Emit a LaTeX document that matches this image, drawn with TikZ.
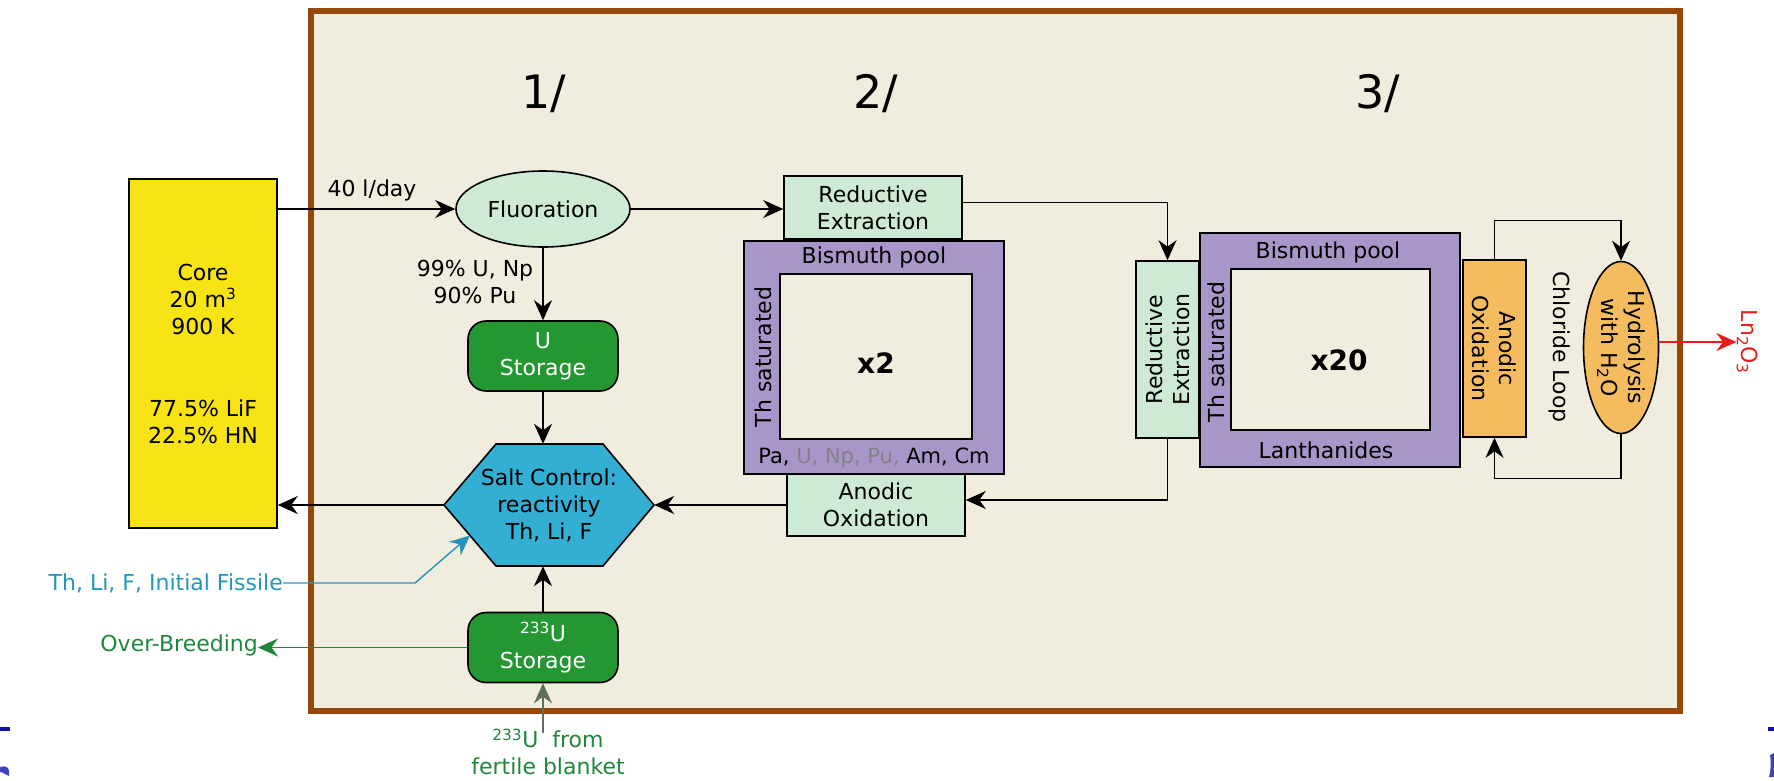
\documentclass[tikz,border=0pt]{standalone}
\usepackage{fontspec}
\setmainfont{DejaVu Sans}
\usetikzlibrary{arrows.meta,shapes.geometric,calc}
\definecolor{beige}{RGB}{240,236,222}
\definecolor{brownc}{RGB}{150,72,10}
\definecolor{yellowc}{RGB}{248,228,20}
\definecolor{lgreen}{RGB}{206,234,212}
\definecolor{dgreen}{RGB}{36,150,50}
\definecolor{bluec}{RGB}{50,175,210}
\definecolor{purp}{RGB}{168,150,200}
\definecolor{orangec}{RGB}{245,188,95}
\definecolor{tealc}{RGB}{35,150,185}
\definecolor{greent}{RGB}{30,135,60}
\definecolor{grayg}{RGB}{95,110,95}
\definecolor{grayt}{RGB}{130,130,130}
\definecolor{redc}{RGB}{230,30,30}
\definecolor{navyc}{RGB}{20,20,165}
\begin{document}
\begin{tikzpicture}[x=1pt,y=-1pt,
  every node/.style={font=\fontsize{22}{27}\selectfont, inner sep=0pt},
  arr/.style={draw=black, line width=1.8pt, -{Stealth[length=20pt,width=18pt]}},
  lbox/.style={draw=black, line width=1.6pt, fill=lgreen, align=center, rectangle},
  store/.style={draw=black, line width=1.6pt, fill=dgreen, rounded corners=18pt, text=white, align=center, minimum width=150pt, minimum height=70pt},
  pool/.style={draw=black, line width=1.6pt, fill=purp},
  poolin/.style={draw=black, line width=1.6pt, fill=beige},
]
\useasboundingbox (0,0) rectangle (1774,780);

% cropped slide fragments at the edges
\fill[navyc] (0,727) rectangle (10,731);
\fill[navyc!80!white] (0,767) .. controls (6,765) and (9,768) .. (9,771) -- (9,776) .. controls (6,775) and (3,772) .. (0,772) -- cycle;
\fill[navyc] (1768,727) rectangle (1774,731);
\fill[navyc!80!white] (1774,753) -- (1774,777) -- (1769,777) .. controls (1771,770) and (1771,760) .. (1770,755) -- cycle;

% frame
\node[draw=brownc, line width=6pt, fill=beige, minimum width=1369pt, minimum height=700pt] (frame) at (995.5,361) {};

% section labels
\node[font=\fontsize{46}{50}\selectfont] (s1) at (544,94) {1/};
\node[font=\fontsize{46}{50}\selectfont] (s2) at (876,94) {2/};
\node[font=\fontsize{46}{50}\selectfont] (s3) at (1378,94) {3/};

% core
\node[draw=black, line width=1.5pt, fill=yellowc, minimum width=148pt, minimum height=349pt, align=center] (core) at (203,353.5)
  {Core\\20 m\textsuperscript{3}\\900 K\\[55pt]77.5\% LiF\\22.5\% HN};

% stage 1
\node[ellipse, draw=black, line width=1.6pt, fill=lgreen, minimum width=174pt, minimum height=76pt] (fluor) at (543,209) {Fluoration};
\node (lday) at (372,190) {40 l/day};
\node[align=center] (pct) at (475,282) {99\% U, Np\\90\% Pu};
\node[store] (ustore) at (543,356) {U\\Storage};
\node[store] (u233) at (543,647.5) {\textsuperscript{233}U\\Storage};

\coordinate (hW) at (444,505);
\coordinate (hNW) at (496,444);
\coordinate (hNE) at (603,444);
\coordinate (hE) at (654,505);
\coordinate (hSE) at (603,566);
\coordinate (hSW) at (496,566);
\filldraw[fill=bluec, draw=black, line width=1.6pt] (hW) -- (hNW) -- (hNE) -- (hE) -- (hSE) -- (hSW) -- cycle;
\node[align=center, minimum width=210pt, minimum height=122pt] (hex) at (549,505) {Salt Control:\\reactivity\\Th, Li, F};

\node[text=tealc, anchor=east] (fiss) at (283,583) {Th, Li, F, Initial Fissile};
\coordinate (fbend) at (415,583);
\coordinate (fend) at ($(hW)!0.5!(hSW)$);
\draw[arr, draw=tealc, line width=1.4pt] (fiss.east) -- (fbend) -- (fend);

\node[text=greent, anchor=east] (ob) at (258,645) {Over-Breeding};
\draw[arr, draw=greent] (u233.west) -- (u233.west -| ob.east);

\node[text=greent, align=center] (fb) at (548,752) {\textsuperscript{233}U\hspace{14pt}from\\fertile blanket};
\coordinate (fbs) at (543,733);
\draw[arr, draw=grayg] (fbs) -- (u233.south);

% stage 2
\node[lbox, minimum width=178pt, minimum height=63pt] (re1) at (873,207.5) {Reductive\\Extraction};
\node[pool, minimum width=260pt, minimum height=233pt] (pool1) at (874,357.5) {};
\node[poolin, minimum width=192pt, minimum height=165pt] (pool1in) at (876,356.5) {};
\node (bp1) at (874,257) {Bismuth pool};
\node[rotate=90] (ths1) at (763,357) {Th saturated};
\node[font=\fontsize{28}{30}\selectfont\bfseries] (x2) at (876,363) {x2};
\node[font=\fontsize{21}{25}\selectfont] (act) at (874,458) {Pa, \textcolor{grayt}{U, Np, Pu,} Am, Cm};
\node[lbox, minimum width=178pt, minimum height=62pt] (ao1) at (876,505) {Anodic\\Oxidation};

% stage 3
\node[lbox, minimum width=63pt, minimum height=177pt] (re2) at (1167.5,349.5) {};
\node[rotate=90, align=center] (re2t) at (re2.center) {Reductive\\Extraction};
\node[pool, minimum width=260pt, minimum height=234pt] (pool2) at (1330,350) {};
\node[poolin, minimum width=199pt, minimum height=161pt] (pool2in) at (1330.5,349.5) {};
\node (bp2) at (1328,252) {Bismuth pool};
\node[rotate=90] (ths2) at (1216,352) {Th saturated};
\node[font=\fontsize{28}{30}\selectfont\bfseries] (x20) at (1339,360) {x20};
\node (lan) at (1326,450) {Lanthanides};
\node[draw=black, line width=1.6pt, fill=orangec, minimum width=63pt, minimum height=177pt] (ao2) at (1494.5,348.5) {};
\node[rotate=-90, align=center] (ao2t) at (ao2.center) {Anodic\\Oxidation};
\node[rotate=-90] (cl) at (1560,347) {Chloride Loop};
\node[ellipse, draw=black, line width=1.6pt, fill=orangec, minimum width=75pt, minimum height=172pt] (hyd) at (1621,347.5) {};
\node[rotate=-90, align=center] (hydt) at (hyd.center) {Hydrolysis\\with H\textsubscript{2}O};
\node[rotate=-90, text=redc] (ln) at (1747,342) {Ln\textsubscript{2}O\textsubscript{3}};

% connectors
\draw[arr] (core.east |- fluor.west) -- (fluor.west);
\draw[arr] (fluor.south) -- (ustore.north);
\draw[arr] (ustore.south) -- (ustore.south |- hex.north);
\draw[arr] (u233.north) -- (u233.north |- hex.south);
\draw[arr] (hex.west) -- (hex.west -| core.east);
\draw[arr] (fluor.east) -- (fluor.east -| re1.west);
\draw[arr, line width=1.4pt] ([yshift=5pt]re1.east) -| (re2.north);
\draw[arr, line width=1.4pt] (re2.south) |- ([yshift=5pt]ao1.east);
\draw[arr] (ao1.west) -- (ao1.west -| hex.east);
\draw[arr, line width=1.4pt] (ao2.north) -- ++(0,-39) -| (hyd.north);
\draw[arr, line width=1.4pt] (hyd.south) -- ++(0,44) -| (ao2.south);
\draw[arr, draw=redc, line width=1.6pt] (hyd.east |- ln.south) -- (ln.south);
\end{tikzpicture}
\end{document}
